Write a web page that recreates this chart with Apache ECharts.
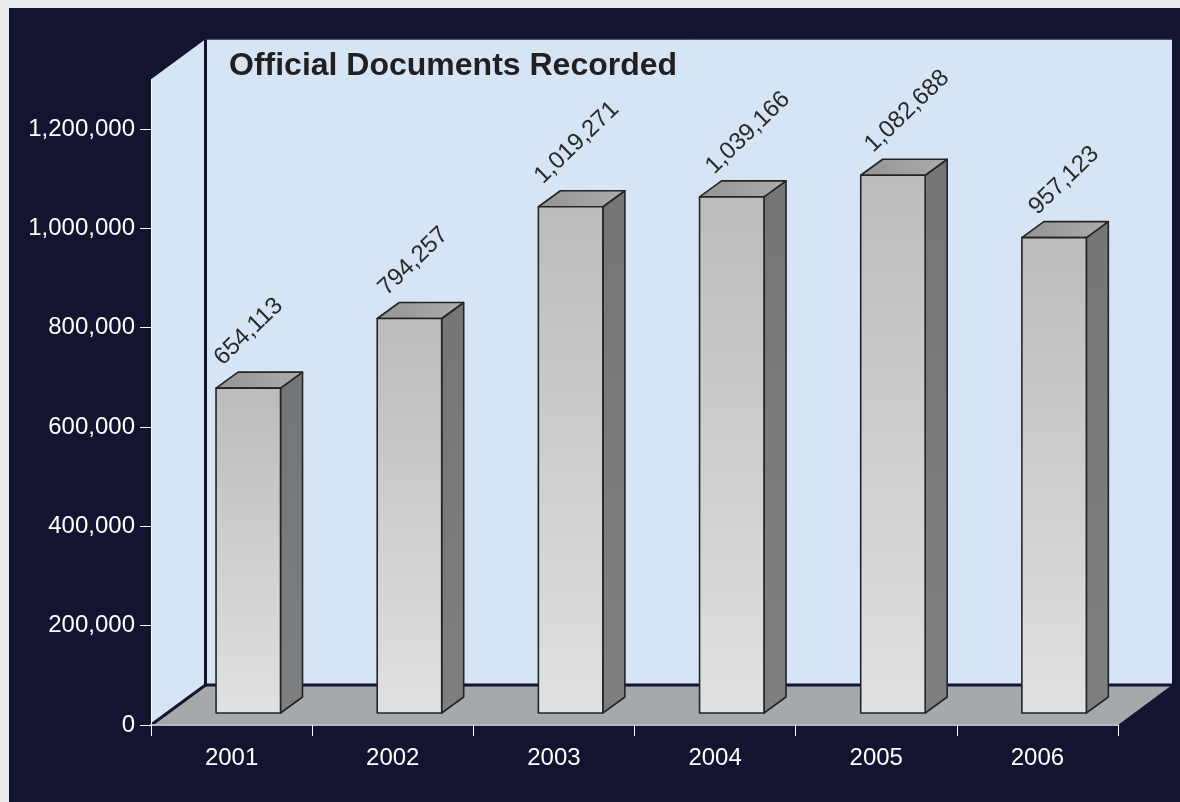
<!DOCTYPE html>
<html><head><meta charset="utf-8">
<style>html,body{margin:0;padding:0;background:#ebebeb;width:1180px;height:802px;overflow:hidden}
#c{position:absolute;left:9px;top:8px;width:1171px;height:794px}</style>
<script src="https://cdn.jsdelivr.net/npm/echarts@6/dist/echarts.min.js"></script>
</head><body><div id="c"></div>
<script>
const categories = ['2001','2002','2003','2004','2005','2006'];
const documents = [654113, 794257, 1019271, 1039166, 1082688, 957123];
const chartTitle = 'Official Documents Recorded';
const axisMax = 1200000, axisStep = 200000, wallTopValue = 1300000;

const FONT = '"Liberation Sans", Arial, sans-serif';
const NAVY = '#131530';
const depthX = 54.5, depthY = 40;      // 3D depth of the floor
const barShiftX = 16.7, barShiftY = 12; // bars stand inside the floor
const barDepthX = 22, barDepthY = 16;
const labelNudge = [2, 5, 0, 10, 8, 11]; // the reference's uneven label placement
const LG = echarts.graphic.LinearGradient;

function poly(points, style) { return {type:'polygon', shape:{points}, style}; }

function renderWalls(params, api) {
  const cs = params.coordSys;
  const x0 = cs.x, x1 = cs.x + cs.width, y0 = cs.y + cs.height;
  const yt = api.coord([0, wallTopValue])[1];
  const bx = x0 + depthX, by = y0 - depthY, btop = yt - depthY;
  const right = x1 + 54;
  return {type:'group', children:[
    poly([[bx,btop],[right,btop],[right,by],[bx,by]], {fill:'#d5e5f6'}),
    {type:'line', shape:{x1:bx,y1:btop,x2:right,y2:btop}, style:{stroke:'#3c4160',lineWidth:1}},
    poly([[x0,yt],[bx,btop],[bx,by],[x0,y0]], {fill:'#d5e5f6'}),
    poly([[x0,y0],[bx,by],[right,by],[x1,y0]], {fill:'#a6a9ab'}),
    {type:'line', shape:{x1:bx,y1:btop,x2:bx,y2:by+1.5}, style:{stroke:NAVY,lineWidth:3}},
    {type:'line', shape:{x1:bx,y1:by,x2:right,y2:by}, style:{stroke:NAVY,lineWidth:3}},
    {type:'line', shape:{x1:x0,y1:y0,x2:bx,y2:by}, style:{stroke:NAVY,lineWidth:3}},
    {type:'line', shape:{x1:x0+.5,y1:yt,x2:x0+.5,y2:y0}, style:{stroke:'#ffffff',lineWidth:1}}
  ]};
}

function renderBar(params, api) {
  const idx = api.value(0), val = api.value(1);
  const top = api.coord([idx, val]), base = api.coord([idx, 0]);
  const w = api.size([1, 0])[0] * 0.4;
  const l = top[0] - w/2 + barShiftX, r = l + w;
  const t = top[1] - barShiftY, b = base[1] - barShiftY;
  const stroke = {stroke:'#242424', lineWidth:1.6, lineJoin:'round'};
  return {type:'group', children:[
    poly([[r,t],[r+barDepthX,t-barDepthY],[r+barDepthX,b-barDepthY],[r,b]],
      Object.assign({fill:new LG(0,0,0,1,[{offset:0,color:'#747577'},{offset:1,color:'#7e7f81'}])},stroke)),
    poly([[l,t],[l+barDepthX,t-barDepthY],[r+barDepthX,t-barDepthY],[r,t]],
      Object.assign({fill:new LG(0,0,1,0,[{offset:0,color:'#949494'},{offset:1,color:'#acacac'}])},stroke)),
    poly([[l,t],[r,t],[r,b],[l,b]],
      Object.assign({fill:new LG(0,0,0,1,[{offset:0,color:'#bbbcbd'},{offset:1,color:'#e0e1e2'}])},stroke)),
    {type:'text', x:l + labelNudge[idx], y:t-27, rotation:44*Math.PI/180,
      style:{text:val.toLocaleString('en-US'), x:0, y:0, align:'left', verticalAlign:'middle',
             fill:'#2a2a2a', font:'24px '+FONT}}
  ]};
}

const chart = echarts.init(document.getElementById('c'), null, {renderer:'canvas'});
chart.setOption({
  animation:false,
  backgroundColor:NAVY,
  title:{text:chartTitle, left:215, top:37, textStyle:{color:'#231f20',fontFamily:FONT,fontWeight:'bold',fontSize:32}},
  grid:{left:142, top:121, right:62, bottom:77},
  xAxis:{type:'category', data:categories, boundaryGap:true,
    axisLine:{show:true,lineStyle:{color:'#b4b6c4',width:2}},
    axisTick:{show:true,length:11,lineStyle:{color:'#ffffff'}},
    axisLabel:{color:'#ffffff',fontFamily:FONT,fontSize:24,margin:21},
    splitLine:{show:false}, z:5},
  yAxis:{type:'value', min:0, max:axisMax, interval:axisStep,
    axisLine:{show:true,lineStyle:{color:'#ffffff',width:1}},
    axisTick:{show:true,length:11,lineStyle:{color:'#ffffff'}},
    axisLabel:{color:'#ffffff',fontFamily:FONT,fontSize:24,margin:16,padding:[5,0,0,0],
      formatter:v=>v.toLocaleString('en-US')},
    splitLine:{show:false}, z:5},
  series:[
    {type:'custom', name:'walls', coordinateSystem:'cartesian2d', renderItem:renderWalls,
      data:[[0,0]], silent:true, clip:false, z:1},
    {type:'custom', name:'Official Documents Recorded', coordinateSystem:'cartesian2d', renderItem:renderBar,
      data:documents.map((v,i)=>[i,v]), clip:false, z:2,
      encode:{x:0,y:1}}
  ]
});
</script></body></html>
